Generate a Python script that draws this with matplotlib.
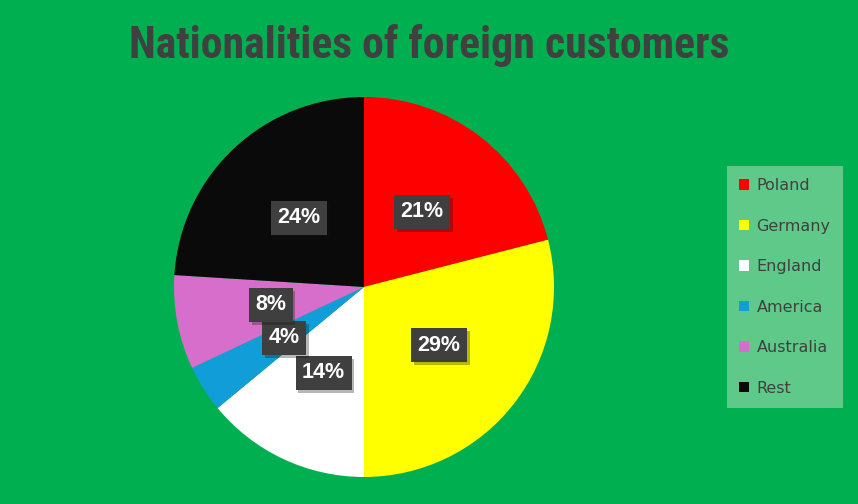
import matplotlib
matplotlib.use('agg')
from matplotlib import pyplot as plt
import matplotlib.patheffects as pe
from matplotlib.patches import Patch

countries = ['Poland', 'Germany', 'England', 'America', 'Australia', 'Rest']
shares = [21, 29, 14, 4, 8, 24]
colours = ['#FF0000', '#FFFF00', '#FFFFFF', '#109DD8', '#D86ECC', '#0A0A0A']

bg = '#00B050'
textGrey = '#404040'

fig = plt.figure(figsize=(8.58, 5.04), dpi=100, facecolor=bg)
ax = fig.add_axes([0.2028, 0.0536, 0.4429, 0.754])
ax.set_facecolor(bg)

wedges, texts, autotexts = ax.pie(shares, colors=colours, startangle=90, counterclock=False,
	autopct='%d%%', pctdistance=0.5, radius=1.0,
	wedgeprops=dict(linewidth=0))
ax.set_aspect('equal')
ax.set_xlim(-1, 1)
ax.set_ylim(-1, 1)
ax.axis('off')

# value labels in dark boxes with a soft drop shadow
for t in autotexts:
	t.set_color('white')
	t.set_fontsize(15.5)
	t.set_fontweight('bold')
	t.set_fontfamily('Liberation Sans')
	t.set_bbox(dict(boxstyle='square,pad=0.3', facecolor='#3F3F3F', edgecolor='none'))
	t.get_bbox_patch().set_path_effects([pe.SimplePatchShadow(offset=(2, -2), alpha=0.3), pe.Normal()])

fig.text(0.5, 0.91, 'Nationalities of foreign customers', ha='center', va='center',
	fontsize=31.5, fontweight='bold', color=textGrey,
	family=['Roboto Condensed', 'Liberation Sans Narrow', 'Roboto', 'DejaVu Sans'])

handles = [Patch(facecolor=c, edgecolor='none') for c in colours]
leg = fig.legend(handles, countries, loc='upper left', bbox_to_anchor=(727/858, 1 - 166/504),
	frameon=True, fancybox=False, fontsize=11.5, labelcolor=textGrey,
	handlelength=0.65, handleheight=0.65, handletextpad=0.45, labelspacing=1.6,
	borderpad=0.75, borderaxespad=0)
leg.get_frame().set_facecolor('#5FC98A')
leg.get_frame().set_edgecolor('none')
leg.get_frame().set_alpha(1)

fig.savefig('out.png', facecolor=bg)
